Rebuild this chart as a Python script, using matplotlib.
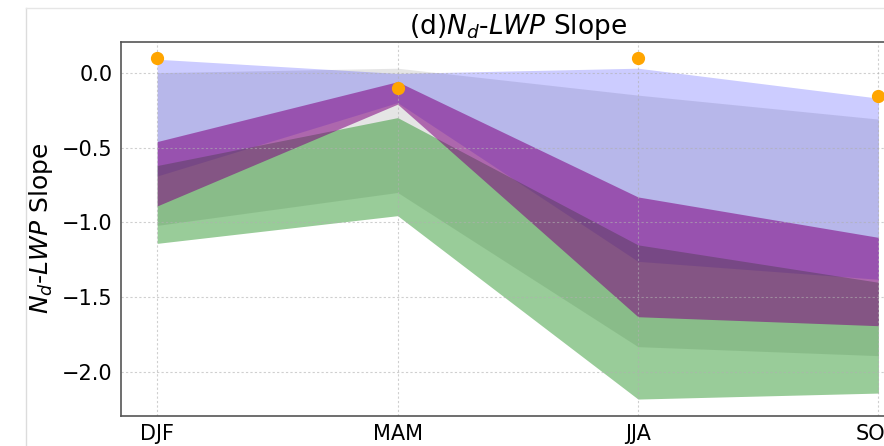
import matplotlib

matplotlib.use("Agg")
import matplotlib.pyplot as plt
from matplotlib.lines import Line2D
import numpy as np

# seasons on the x axis
seasons = ["DJF", "MAM", "JJA", "SON"]

# observed slope (orange dots)
obs = [0.095, -0.10, 0.10, -0.155]

# ranges (upper / lower edge per season)
gray_hi = [0.00, 0.03, -0.15, -0.31]
gray_lo = [-1.02, -0.80, -1.83, -1.89]

blue_hi = [0.09, -0.005, 0.03, -0.17]
blue_lo = [-0.69, -0.20, -1.26, -1.38]

green_hi = [-0.62, -0.30, -1.15, -1.40]
green_lo = [-1.14, -0.955, -2.18, -2.14]

purple_hi = [-0.46, -0.06, -0.83, -1.10]
purple_lo = [-0.89, -0.21, -1.63, -1.69]


def main() -> None:
    x = np.arange(len(seasons))

    fig = plt.figure(figsize=(8.84, 4.46), dpi=100)
    # axes runs past the right edge like in the cropped original
    ax = fig.add_axes([0.137, 0.0673, 0.8975, 0.8392])

    ax.fill_between(x, gray_lo, gray_hi, color="gray", alpha=0.2, lw=0)
    ax.fill_between(x, blue_lo, blue_hi, color="blue", alpha=0.2, lw=0)
    ax.fill_between(x, green_lo, green_hi, color="green", alpha=0.4, lw=0)
    ax.fill_between(x, purple_lo, purple_hi, color="purple", alpha=0.55, lw=0)

    ax.plot(x, obs, "o", color="orange", markersize=8.5, zorder=5)

    ax.set_xlim(-0.15, 3.15)
    ax.set_ylim(-2.293, 0.207)
    ax.set_xticks(x)
    ax.set_xticklabels(seasons)
    ax.set_yticks([0.0, -0.5, -1.0, -1.5, -2.0])
    ax.tick_params(axis="both", length=0, labelsize=15, pad=6)

    ax.grid(True, linestyle=(0, (2, 2)), color="#b0b0b0", alpha=0.6,
            linewidth=0.8)

    for side in ["left", "bottom", "top", "right"]:
        ax.spines[side].set_color("#555555")
        ax.spines[side].set_linewidth(1.2)

    ax.set_ylabel("$N_d$-$LWP$ Slope", fontsize=18, labelpad=5)
    ax.set_title("(d)$N_d$-$LWP$ Slope", fontsize=19, pad=3)

    # thin frame from the screenshot
    fig.add_artist(Line2D([25.5 / 884, 25.5 / 884], [0, 1 - 7.5 / 446],
                          transform=fig.transFigure, color="#dcdcdc", lw=1))
    fig.add_artist(Line2D([25.5 / 884, 1], [1 - 7.5 / 446, 1 - 7.5 / 446],
                          transform=fig.transFigure, color="#e6e6e6", lw=1))

    fig.savefig("out.png", dpi=100)
    plt.close(fig)


if __name__ == "__main__":
    main()
